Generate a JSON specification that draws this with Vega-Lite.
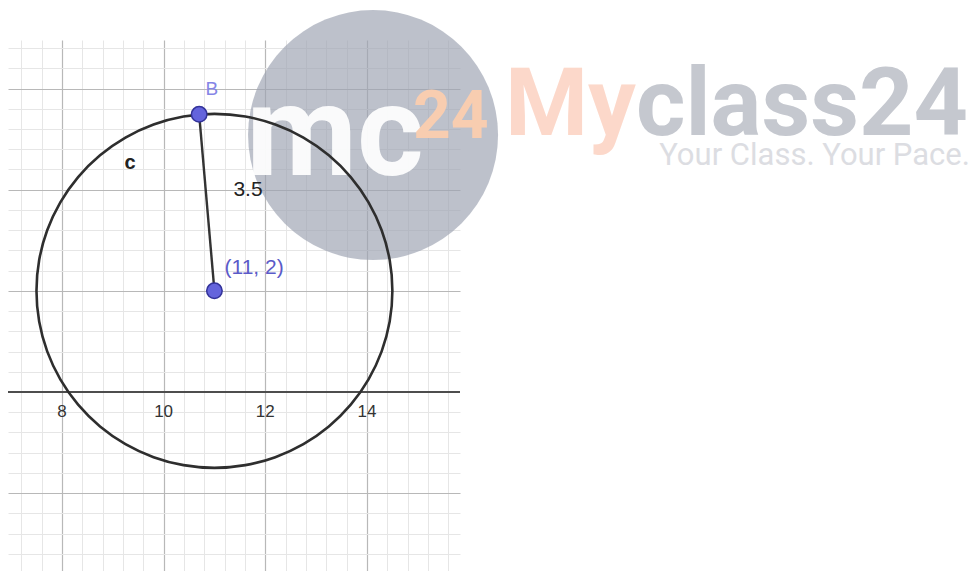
{
  "$schema": "https://vega.github.io/schema/vega-lite/v6.json",
  "width": 452,
  "height": 531,
  "autosize": {"type": "none"},
  "padding": {"left": 8, "top": 40, "right": 514, "bottom": 0},
  "background": "white",
  "config": {"view": {"stroke": null}},
  "resolve": {"axis": {"x": "independent", "y": "independent"}},
  "layer": [
    {
      "data": {"values": [{"x": 14.12, "y": 5.08}]},
      "mark": {"type": "point", "shape": "circle", "filled": true, "size": 62500, "color": "#9ea3b2", "opacity": 0.68, "clip": false},
      "encoding": {
        "x": {"field": "x", "type": "quantitative", "scale": {"domain": [6.94, 15.83], "nice": false, "zero": false}, "axis": null},
        "y": {"field": "y", "type": "quantitative", "scale": {"domain": [-3.54, 6.96], "nice": false, "zero": false}, "axis": null}
      }
    },
    {
      "data": {"values": [{"x": 13.37, "y": 4.29, "t": "mc"}]},
      "mark": {"type": "text", "font": "Roboto", "fontWeight": "bold", "fontSize": 128, "color": "#ffffff", "opacity": 0.93, "align": "center", "baseline": "alphabetic", "clip": false},
      "encoding": {
        "x": {"field": "x", "type": "quantitative", "axis": null},
        "y": {"field": "y", "type": "quantitative", "axis": null},
        "text": {"field": "t"}
      }
    },
    {
      "data": {"values": [{"x": 15.65, "y": 5.02, "t": "24"}]},
      "mark": {"type": "text", "font": "Roboto", "fontWeight": "bold", "fontSize": 66, "color": "#f8cdb0", "align": "center", "baseline": "alphabetic", "clip": false},
      "encoding": {
        "x": {"field": "x", "type": "quantitative", "axis": null},
        "y": {"field": "y", "type": "quantitative", "axis": null},
        "text": {"field": "t"}
      }
    },
    {
      "data": {"values": [{}]},
      "mark": {"type": "rule", "color": "#4d4d4d", "strokeWidth": 2},
      "encoding": {
        "y": {"datum": 0, "type": "quantitative", "axis": null}
      }
    },
    {
      "data": {"values": [
        {"i": 0, "x": 14.5, "y": 2},
        {"i": 1, "x": 14.447, "y": 2.608},
        {"i": 2, "x": 14.289, "y": 3.197},
        {"i": 3, "x": 14.031, "y": 3.75},
        {"i": 4, "x": 13.681, "y": 4.25},
        {"i": 5, "x": 13.25, "y": 4.681},
        {"i": 6, "x": 12.75, "y": 5.031},
        {"i": 7, "x": 12.197, "y": 5.289},
        {"i": 8, "x": 11.608, "y": 5.447},
        {"i": 9, "x": 11, "y": 5.5},
        {"i": 10, "x": 10.392, "y": 5.447},
        {"i": 11, "x": 9.803, "y": 5.289},
        {"i": 12, "x": 9.25, "y": 5.031},
        {"i": 13, "x": 8.75, "y": 4.681},
        {"i": 14, "x": 8.319, "y": 4.25},
        {"i": 15, "x": 7.969, "y": 3.75},
        {"i": 16, "x": 7.711, "y": 3.197},
        {"i": 17, "x": 7.553, "y": 2.608},
        {"i": 18, "x": 7.5, "y": 2},
        {"i": 19, "x": 7.553, "y": 1.392},
        {"i": 20, "x": 7.711, "y": 0.803},
        {"i": 21, "x": 7.969, "y": 0.25},
        {"i": 22, "x": 8.319, "y": -0.25},
        {"i": 23, "x": 8.75, "y": -0.681},
        {"i": 24, "x": 9.25, "y": -1.031},
        {"i": 25, "x": 9.803, "y": -1.289},
        {"i": 26, "x": 10.392, "y": -1.447},
        {"i": 27, "x": 11, "y": -1.5},
        {"i": 28, "x": 11.608, "y": -1.447},
        {"i": 29, "x": 12.197, "y": -1.289},
        {"i": 30, "x": 12.75, "y": -1.031},
        {"i": 31, "x": 13.25, "y": -0.681},
        {"i": 32, "x": 13.681, "y": -0.25},
        {"i": 33, "x": 14.031, "y": 0.25},
        {"i": 34, "x": 14.289, "y": 0.803},
        {"i": 35, "x": 14.447, "y": 1.392}
      ]},
      "mark": {"type": "line", "interpolate": "cardinal-closed", "color": "#2e2e2e", "strokeWidth": 2.6},
      "encoding": {
        "x": {"field": "x", "type": "quantitative", "axis": {"grid": true, "gridColor": "#e6e6e6", "gridWidth": 1, "labels": false, "ticks": false, "domain": false, "title": null,
          "values": [7.2, 7.6, 8.4, 8.8, 9.2, 9.6, 10.4, 10.8, 11.2, 11.6, 12.4, 12.8, 13.2, 13.6, 14.4, 14.8, 15.2, 15.6]}},
        "y": {"field": "y", "type": "quantitative", "axis": {"grid": true, "gridColor": "#e6e6e6", "gridWidth": 1, "labels": false, "ticks": false, "domain": false, "title": null,
          "values": [-3.2, -2.8, -2.4, -1.6, -1.2, -0.8, -0.4, 0.4, 0.8, 1.2, 1.6, 2.4, 2.8, 3.2, 3.6, 4.4, 4.8, 5.2, 5.6, 6.4, 6.8]}},
        "order": {"field": "i", "type": "quantitative"}
      }
    },
    {
      "data": {"values": [{"i": 0, "x": 11, "y": 2}, {"i": 1, "x": 10.7, "y": 5.49}]},
      "mark": {"type": "line", "color": "#333333", "strokeWidth": 2.4},
      "encoding": {
        "x": {"field": "x", "type": "quantitative", "axis": null},
        "y": {"field": "y", "type": "quantitative", "axis": null},
        "order": {"field": "i", "type": "quantitative"}
      }
    },
    {
      "data": {"values": [{"name": "center", "x": 11, "y": 2}, {"name": "B", "x": 10.7, "y": 5.49}]},
      "mark": {"type": "point", "shape": "circle", "filled": true, "size": 240, "fill": "#6464dc", "stroke": "#33339a", "strokeWidth": 1.5, "opacity": 1},
      "encoding": {
        "x": {"field": "x", "type": "quantitative", "axis": {"grid": true, "gridColor": "#b8b8b8", "gridWidth": 1.2, "labels": false, "ticks": false, "domain": false, "title": null, "values": [8, 10, 12, 14]}},
        "y": {"field": "y", "type": "quantitative", "axis": {"grid": true, "gridColor": "#b8b8b8", "gridWidth": 1.2, "labels": false, "ticks": false, "domain": false, "title": null, "values": [-2, 2, 4, 6]}}
      }
    },
    {
      "data": {"values": [{"x": 10.95, "y": 5.99, "t": "B"}]},
      "mark": {"type": "text", "font": "Liberation Sans", "fontSize": 19, "color": "#8585e6", "align": "center", "baseline": "middle"},
      "encoding": {
        "x": {"field": "x", "type": "quantitative", "axis": null},
        "y": {"field": "y", "type": "quantitative", "axis": null},
        "text": {"field": "t"}
      }
    },
    {
      "data": {"values": [{"x": 11.78, "y": 2.45, "t": "(11, 2)"}]},
      "mark": {"type": "text", "font": "Liberation Sans", "fontSize": 21, "color": "#5a5ac8", "align": "center", "baseline": "middle"},
      "encoding": {
        "x": {"field": "x", "type": "quantitative", "axis": null},
        "y": {"field": "y", "type": "quantitative", "axis": null},
        "text": {"field": "t"}
      }
    },
    {
      "data": {"values": [{"x": 11.66, "y": 3.99, "t": "3.5"}]},
      "mark": {"type": "text", "font": "Liberation Sans", "fontSize": 21, "color": "#222222", "align": "center", "baseline": "middle"},
      "encoding": {
        "x": {"field": "x", "type": "quantitative", "axis": null},
        "y": {"field": "y", "type": "quantitative", "axis": null},
        "text": {"field": "t"}
      }
    },
    {
      "data": {"values": [{"x": 9.34, "y": 4.53, "t": "c"}]},
      "mark": {"type": "text", "font": "Liberation Sans", "fontSize": 20, "fontWeight": "bold", "color": "#222222", "align": "center", "baseline": "middle"},
      "encoding": {
        "x": {"field": "x", "type": "quantitative", "axis": null},
        "y": {"field": "y", "type": "quantitative", "axis": null},
        "text": {"field": "t"}
      }
    },
    {
      "data": {"values": [{"x": 8, "y": -0.4, "t": "8"}, {"x": 10, "y": -0.4, "t": "10"}, {"x": 12, "y": -0.4, "t": "12"}, {"x": 14, "y": -0.4, "t": "14"}]},
      "mark": {"type": "text", "font": "Liberation Sans", "fontSize": 17, "color": "#333333", "align": "center", "baseline": "middle"},
      "encoding": {
        "x": {"field": "x", "type": "quantitative", "axis": null},
        "y": {"field": "y", "type": "quantitative", "axis": null},
        "text": {"field": "t"}
      }
    },
    {
      "data": {"values": [{"x": 19.29, "y": 5.08, "t": "My"}]},
      "mark": {"type": "text", "font": "Roboto", "fontWeight": "bold", "fontSize": 95, "color": "#fcd8ca", "align": "right", "baseline": "alphabetic", "clip": false},
      "encoding": {
        "x": {"field": "x", "type": "quantitative", "axis": null},
        "y": {"field": "y", "type": "quantitative", "axis": null},
        "text": {"field": "t"}
      }
    },
    {
      "data": {"values": [{"x": 19.29, "y": 5.08, "t": "class24"}]},
      "mark": {"type": "text", "font": "Roboto", "fontWeight": "bold", "fontSize": 95, "color": "#c5c8cf", "align": "left", "baseline": "alphabetic", "clip": false},
      "encoding": {
        "x": {"field": "x", "type": "quantitative", "axis": null},
        "y": {"field": "y", "type": "quantitative", "axis": null},
        "text": {"field": "t"}
      }
    },
    {
      "data": {"values": [{"x": 25.86, "y": 4.49, "t": "Your Class. Your Pace."}]},
      "mark": {"type": "text", "font": "Roboto", "fontSize": 31, "color": "#dcdde2", "align": "right", "baseline": "alphabetic", "clip": false},
      "encoding": {
        "x": {"field": "x", "type": "quantitative", "axis": null},
        "y": {"field": "y", "type": "quantitative", "axis": null},
        "text": {"field": "t"}
      }
    }
  ]
}
